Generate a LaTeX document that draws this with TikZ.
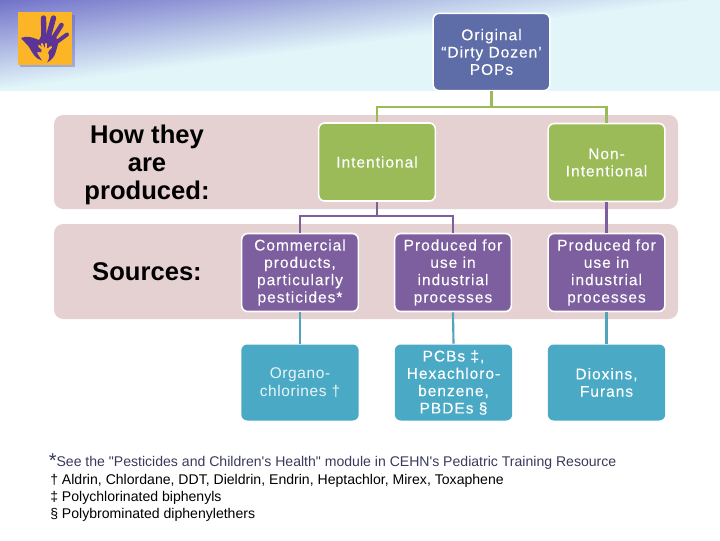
\documentclass[tikz,border=0pt]{standalone}
\usepackage{fontspec}
\setmainfont{Liberation Sans}
\newfontfamily\boxfont{Liberation Sans}[LetterSpace=6.5,FakeBold=0.12]
\newfontfamily\thinfont{Liberation Sans}[LetterSpace=4]
\newfontfamily\notefont{Liberation Sans}
\definecolor{bannerdark}{RGB}{112,112,200}
\definecolor{bannerpale}{RGB}{226,245,249}
\definecolor{bandpink}{RGB}{229,208,210}
\definecolor{blueb}{RGB}{94,108,168}
\definecolor{greenb}{RGB}{155,187,89}
\definecolor{purpleb}{RGB}{125,94,158}
\definecolor{tealb}{RGB}{74,170,197}
\definecolor{logoyellow}{RGB}{251,181,38}
\definecolor{handpurple}{RGB}{92,52,150}
\definecolor{notenavy}{RGB}{58,58,94}
\tikzset{
  box/.style={draw=white,line width=1.2pt,rounded corners=4.5pt,minimum width=87.5pt,minimum height=58.5pt,
    inner sep=0pt,align=center,text=white,font=\boxfont\fontsize{11.6}{13}\selectfont},
  tbox/.style={box,fill=tealb,draw=none,minimum width=88pt,minimum height=57pt},
  band/.style={fill=bandpink,rounded corners=7pt},
  head/.style={font=\bfseries\fontsize{19.2}{21}\selectfont,align=center,text=black},
  note/.style={anchor=west,inner sep=0pt,font=\notefont\fontsize{10.55}{11}\selectfont},
  glink/.style={draw=greenb,line width=1.6pt},
  plink/.style={draw=purpleb,line width=1.6pt},
  tlink/.style={draw=tealb!85!gray,line width=1.6pt},
  finger/.style={draw=handpurple,line cap=round,line width=4pt},
  kidfinger/.style={draw=logoyellow,line cap=round,line width=1.6pt},
}
\begin{document}
\begin{tikzpicture}[x=0.75pt,y=0.75pt,yscale=-1,xscale=1]
\useasboundingbox (0,0) rectangle (720,540);
\fill[white] (0,0) rectangle (720,540);

% banner, painted as overlapping strips so that the gradient can lean
\begin{scope}
\clip (0,0) rectangle (720,90);
\fill[bannerdark] (0,0) rectangle (720,90);
\begin{scope}[rotate=-7.3]
\foreach \i in {0,...,45} {
  \pgfmathsetmacro{\pct}{100-\i*100/45}
  \fill[bannerdark!\pct!bannerpale] (-100,\i*2-2) rectangle (900,300);
}
\end{scope}
\end{scope}

% logo
\fill[gray!60!blue,opacity=0.35] (20,15) rectangle (75,67);
\fill[logoyellow] (18,12) rectangle (72,65);
\draw[finger] (44,40) -- (43.5,18);
\draw[finger] (48,38) -- (53.5,18);
\draw[finger,line width=3.4pt] (52,40) -- (61.5,25);
\draw[finger,line width=3pt] (54,44) -- (67,34.5);
\fill[handpurple] (21,38) .. controls (27,35) and (34,38) .. (39,40)
  -- (42,34) -- (56,36) -- (58,44)
  .. controls (56,50) and (56,58) .. (47,62.5) .. controls (50,58) and (50,54) .. (47,52)
  -- (37,52) .. controls (38,56) and (41,58) .. (42,60.5)
  .. controls (35,59) and (32,52) .. (29,47) .. controls (27,44) and (23,41) .. (21,38) -- cycle;
\fill[logoyellow] (45,51) circle (3.8);
\draw[kidfinger] (44,50) -- (39,46);
\draw[kidfinger] (44,50) -- (42,44);
\draw[kidfinger] (46,50) -- (46,44);
\draw[kidfinger] (47,51) -- (51,47);
\draw[kidfinger,line width=3pt] (44.5,52) -- (44.5,57);

% bands
\fill[band] (54,115) rectangle (678,209);
\fill[band] (54,224) rectangle (678,319);
\node[head] (howlabel) at (147,164.5) {How they\\are\\produced:};
\node[head] (srclabel) at (147,272) {Sources:};

% connectors go under the boxes
\coordinate (gbus) at (491.5,107);
\coordinate (pbus) at (377,216);

% boxes
\node[box,fill=blueb,minimum height=58pt] (top) at (491.5,52) {Original\\“Dirty Dozen’\\POPs};
\node[box,fill=greenb] (int) at (377,162) {Intentional};
\node[box,fill=greenb] (non) at (606.5,162.5) {Non-\\Intentional};
\node[box,fill=purpleb] (com) at (300,272.5) {Commercial\\products,\\particularly\\pesticides*};
\node[box,fill=purpleb] (ind) at (453,272.5) {Produced for\\use in\\industrial\\processes};
\node[box,fill=purpleb] (ind2) at (606.5,272.5) {Produced for\\use in\\industrial\\processes};
\node[tbox,text=white!88!tealb,font=\thinfont\fontsize{11.6}{13}\selectfont] (org) at (300,382.5) {Organo-\\chlorines †};
\node[tbox] (pcb) at (453.5,382.5) {PCBs ‡,\\Hexachloro-\\benzene,\\PBDEs §};
\node[tbox] (dio) at (606.5,382.5) {Dioxins,\\Furans};

\draw[glink] (top.south) -- (gbus);
\draw[glink] (gbus) -| (int.north);
\draw[glink] (gbus) -| (non.north);
\draw[plink] (int.south) -- (pbus);
\draw[plink] (pbus) -| (com.north);
\draw[plink] (pbus) -| (ind.north);
\draw[plink] (non.south) -- (ind2.north);
\draw[tlink] (com.south) -- (org.north);
\draw[tlink] (ind.south) -- (pcb.north);
\draw[tlink] (ind2.south) -- (dio.north);

% notes
\node[note,text=notenavy] (n1) at (48.5,461.5) {{\fontsize{15}{15}\selectfont\raisebox{-1pt}{*}}See the "Pesticides and Children's Health" module in CEHN's Pediatric Training Resource};
\node[note] (n2) at (50,480.5) {† Aldrin, Chlordane, DDT, Dieldrin, Endrin, Heptachlor, Mirex, Toxaphene};
\node[note] (n3) at (50,497.5) {‡ Polychlorinated biphenyls};
\node[note] (n4) at (50,514.5) {§ Polybrominated diphenylethers};
\end{tikzpicture}
\end{document}
